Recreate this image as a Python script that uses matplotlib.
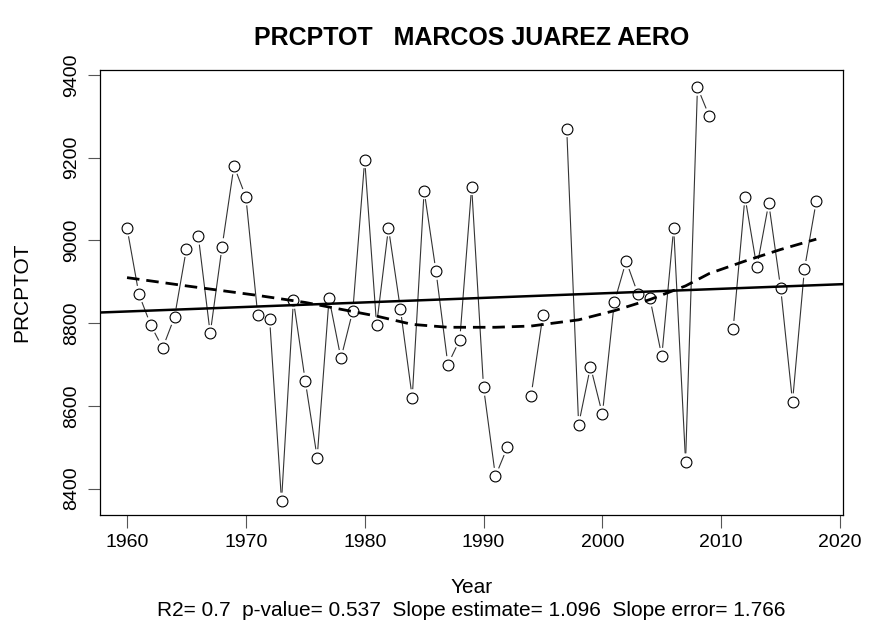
import numpy as np
import matplotlib
matplotlib.use('Agg')
import matplotlib.pyplot as plt

plt.rcParams['font.family'] = ['Liberation Sans', 'DejaVu Sans']

years = list(range(1960, 2019))
prcptot = [9030, 8870, 8795, 8740, 8815, 8980, 9010, 8775, 8985, 9180,
           9105, 8820, 8810, 8370, 8855, 8660, 8475, 8860, 8715, 8830,
           9195, 8795, 9030, 8835, 8620, 9120, 8925, 8700, 8760, 9130,
           8645, 8430, 8500, np.nan, 8625, 8820, np.nan, 9270, 8555, 8695,
           8580, 8850, 8950, 8870, 8860, 8720, 9030, 8465, 9370, 9300,
           np.nan, 8785, 9105, 8935, 9090, 8885, 8610, 8930, 9095]

# smoothed curve (dashed)
smooth_years = [1960, 1965, 1971, 1975, 1981, 1984, 1987, 1991, 1994, 1998,
                2001, 2004, 2007, 2009, 2012, 2015, 2018]
smooth_vals = [8910, 8890, 8867, 8850, 8817, 8797, 8790, 8790, 8793, 8808,
               8830, 8857, 8890, 8920, 8950, 8978, 9003]

# linear trend
slope = 1.096
trend_at_1958 = 8826

r2, pval, slope_err = 0.7, 0.537, 1.766

fig = plt.figure(figsize=(8.7, 6.3), dpi=100)
ax = fig.add_axes([0.115, 0.183, 0.854, 0.706])
ax.set_xlim(1957.73, 2020.25)
ax.set_ylim(8337, 9412)

# type="b": line segments with a gap around each point
x = np.array(years, dtype=float)
y = np.array(prcptot, dtype=float)
gap = 9.0
inv = ax.transData.inverted()
for i in range(len(x) - 1):
    if np.isnan(y[i]) or np.isnan(y[i + 1]):
        continue
    p0 = ax.transData.transform((x[i], y[i]))
    p1 = ax.transData.transform((x[i + 1], y[i + 1]))
    d = p1 - p0
    L = np.hypot(*d)
    if L <= 2 * gap:
        continue
    u = d / L
    a = inv.transform(p0 + u * gap)
    b = inv.transform(p1 - u * gap)
    ax.plot([a[0], b[0]], [a[1], b[1]], color='#333333', lw=0.8)

ax.plot(x, y, 'o', mfc='none', mec='black', ms=7.8, mew=0.8)

xx = np.array(ax.get_xlim())
ax.plot(xx, trend_at_1958 + slope * (xx - 1958), color='black', lw=1.8)
ax.plot(smooth_years, smooth_vals, color='black', lw=2.0, ls=(0, (4.5, 2.5)))

ax.set_xticks(range(1960, 2021, 10))
ax.set_yticks(range(8400, 9401, 200))
ax.tick_params(direction='out', length=9, width=0.8, color='#555555',
               labelsize=14, pad=5)
for lbl in ax.get_yticklabels():
    lbl.set_rotation(90)
    lbl.set_va('center')
for s in ax.spines.values():
    s.set_linewidth(0.9)

ax.set_ylabel('PRCPTOT', fontsize=15)
ax.yaxis.set_label_coords(-0.093, 0.5)
fig.text(0.542, 0.94, 'PRCPTOT   MARCOS JUAREZ AERO', ha='center', va='center',
         fontsize=18, fontweight='bold')
fig.text(0.542, 0.068, 'Year', ha='center', va='center', fontsize=15)
fig.text(0.542, 0.031,
         f'R2= {r2}  p-value= {pval}  Slope estimate= {slope}  Slope error= {slope_err}',
         ha='center', va='center', fontsize=15)

fig.savefig('out.png', dpi=100)
